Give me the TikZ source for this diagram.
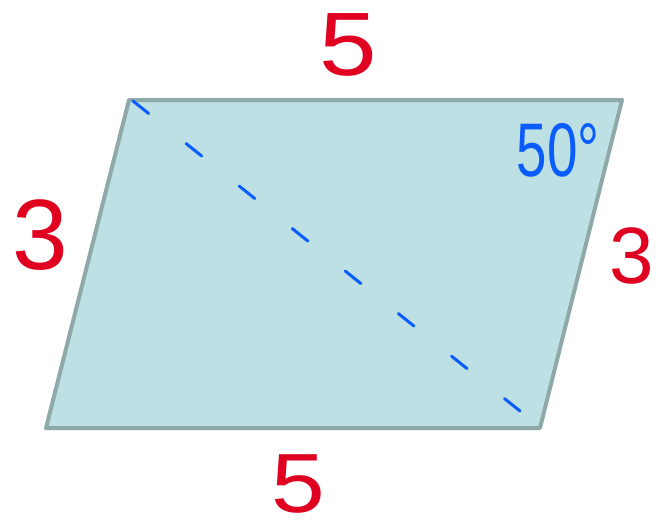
\documentclass[tikz,border=0pt]{standalone}
\usepackage{fontspec}
\setmainfont{Liberation Sans}
\definecolor{fillc}{HTML}{BCE0E3}
\definecolor{edgec}{HTML}{8FA8A8}
\definecolor{redc}{HTML}{E00020}
\definecolor{bluec}{HTML}{0A5CFF}
\begin{document}
\begin{tikzpicture}[x=1pt,y=-1pt,
  redlbl/.style={text=redc,inner sep=0pt},
  bluelbl/.style={text=bluec,inner sep=0pt},
  diag/.style={draw=bluec,line width=3pt,line cap=round,dash pattern=on 20pt off 48pt}]
\useasboundingbox (0,0) rectangle (658,531);
\coordinate (tl) at (129,100);
\coordinate (tr) at (622,100);
\coordinate (br) at (540,428);
\coordinate (bl) at (46,428);
\filldraw[fill=fillc,draw=edgec,line width=4pt,line join=round] (tl) -- (tr) -- (br) -- (bl) -- cycle;
\coordinate (d1) at (133,101);
\coordinate (d2) at (520,411);
\draw[diag] (d1) -- (d2);
\node[redlbl,font=\fontsize{90}{90}\selectfont,xscale=1.15] (top) at (348,45) {5};
\node[redlbl,font=\fontsize{84}{84}\selectfont,xscale=1.15] (bot) at (298,484) {5};
\node[redlbl,font=\fontsize{100}{100}\selectfont] (left) at (40,235) {3};
\node[redlbl,font=\fontsize{80}{80}\selectfont] (right) at (632,256) {3};
\node[bluelbl,font=\fontsize{76}{76}\selectfont,xscale=0.72] (ang) at (558,150) {50°};
\end{tikzpicture}
\end{document}
